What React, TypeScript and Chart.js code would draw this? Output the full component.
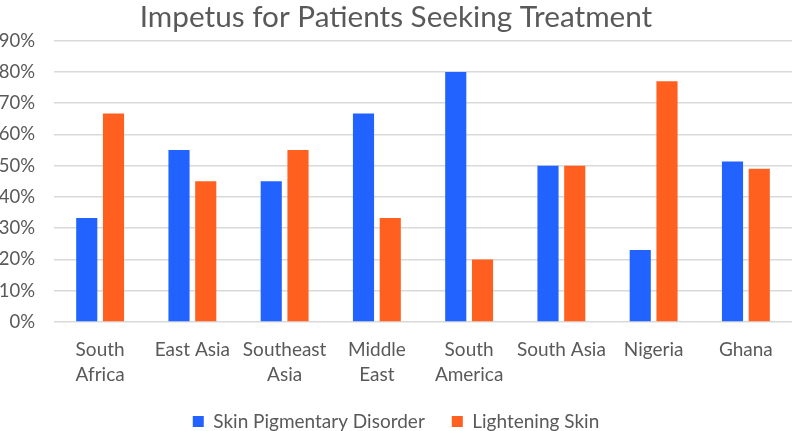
import Chart from 'chart.js/auto';
import { useEffect, useRef } from 'react';

const categories: (string | string[])[] = [
    ['South', 'Africa'],
    'East Asia',
    ['Southeast', 'Asia'],
    ['Middle', 'East'],
    ['South', 'America'],
    'South Asia',
    'Nigeria',
    'Ghana',
];
const pigmentaryDisorder = [33.3, 55, 45, 66.7, 80, 50, 23, 51.3];
const lighteningSkin = [66.7, 45, 55, 33.3, 20, 50, 77, 49];
const yTicks = [0, 10, 20, 30, 40, 50, 60, 70, 80, 90];

const FONT = 'Lato, "Noto Sans", sans-serif';
const GREY = '#595959';

// the legend padding also spaces the items apart, so cap the box height it asks for
const legendHeight = {
    id: 'legendHeight',
    afterInit(chart: any) {
        const lg = chart.legend;
        if (!lg) return;
        const fit = lg.fit.bind(lg);
        lg.fit = () => {
            fit();
            lg.height = 46;
        };
    },
};

const App = () => {
    const chartRef = useRef<HTMLCanvasElement | null>(null);

    useEffect(() => {
        document.body.style.margin = '0';
        if (!chartRef.current) return;
        const ctx = chartRef.current.getContext('2d');
        if (!ctx) return;

        const myChart = new Chart(ctx, {
            type: 'bar',
            data: {
                labels: categories,
                datasets: [
                    {
                        label: 'Skin Pigmentary Disorder',
                        data: pigmentaryDisorder,
                        backgroundColor: '#2263FF',
                        categoryPercentage: 0.58,
                        barPercentage: 0.79,
                    },
                    {
                        label: 'Lightening Skin',
                        data: lighteningSkin,
                        backgroundColor: '#FF5F1F',
                        categoryPercentage: 0.58,
                        barPercentage: 0.79,
                    },
                ],
            },
            options: {
                animation: false,
                responsive: false,
                layout: { padding: 0 },
                scales: {
                    y: {
                        min: 0,
                        max: 90,
                        afterBuildTicks: (axis) => {
                            axis.ticks = yTicks.map((v) => ({ value: v }));
                        },
                        afterFit: (axis) => {
                            axis.width = 54;
                        },
                        border: { display: false },
                        grid: { color: '#D9D9D9', lineWidth: 1.5, drawTicks: false },
                        ticks: {
                            padding: 19,
                            color: GREY,
                            font: { family: FONT, size: 18.5 },
                            callback: (v) => v + '%',
                        },
                    },
                    x: {
                        afterFit: (axis) => {
                            axis.height = 63;
                        },
                        border: { display: false },
                        grid: { display: false },
                        ticks: {
                            padding: 7,
                            color: GREY,
                            maxRotation: 0,
                            autoSkip: false,
                            font: { family: FONT, size: 19, lineHeight: 1.32 },
                        },
                    },
                },
                plugins: {
                    title: {
                        display: true,
                        text: 'Impetus for Patients Seeking Treatment',
                        color: GREY,
                        font: { family: FONT, size: 29.7, weight: 'normal' },
                        padding: { top: 0, bottom: 5 },
                    },
                    legend: {
                        position: 'bottom',
                        labels: {
                            color: GREY,
                            boxWidth: 11,
                            boxHeight: 11,
                            padding: 27,
                            font: { family: FONT, size: 19 },
                        },
                    },
                    tooltip: { enabled: false },
                },
            },
            plugins: [legendHeight],
        });

        return () => myChart.destroy();
    }, []);

    return <canvas ref={chartRef} width={792} height={431} style={{ display: 'block' }} />;
};

export default App;
